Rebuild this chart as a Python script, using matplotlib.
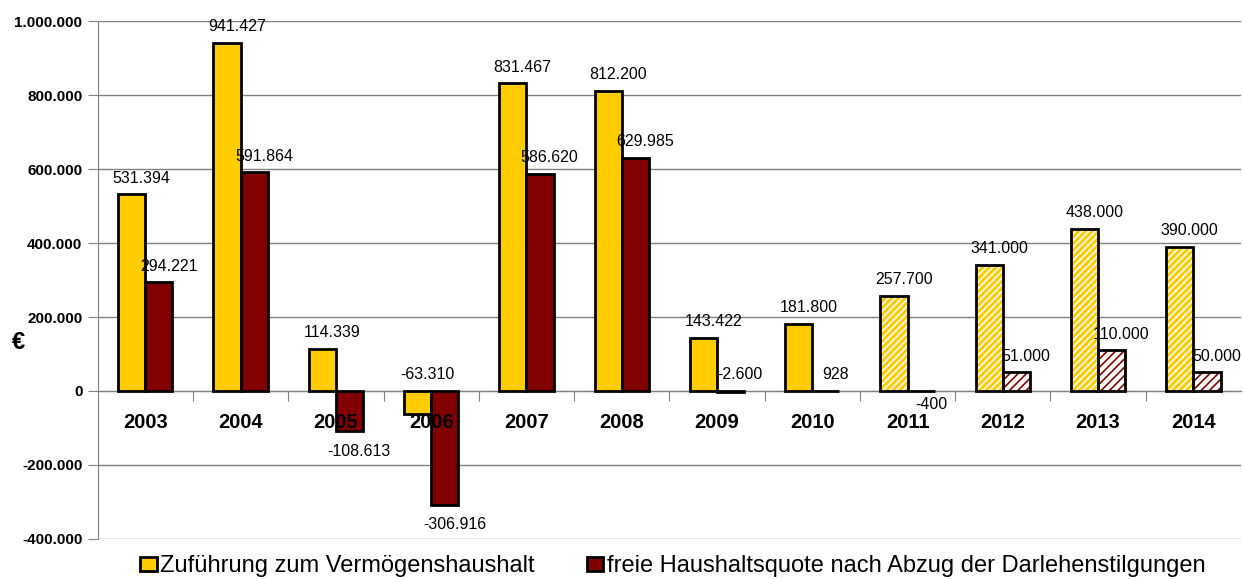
import numpy as np
import matplotlib
matplotlib.use("Agg")
import matplotlib.pyplot as plt
from matplotlib.patches import Patch

plt.rcParams['font.family'] = ['Liberation Sans', 'DejaVu Sans']
plt.rcParams['hatch.linewidth'] = 1.2

years = [2003, 2004, 2005, 2006, 2007, 2008, 2009, 2010, 2011, 2012, 2013, 2014]
zufuehrung = [531394, 941427, 114339, -63310, 831467, 812200, 143422, 181800,
              257700, 341000, 438000, 390000]
freie_quote = [294221, 591864, -108613, -306916, 586620, 629985, -2600, 928,
               -400, 51000, 110000, 50000]
# planned years (hatched bars)
plan_years = [2011, 2012, 2013, 2014]
legend_labels = ["Zuführung zum Vermögenshaushalt",
                 "freie Haushaltsquote nach Abzug der Darlehenstilgungen"]
yticks = [-400000, -200000, 0, 200000, 400000, 600000, 800000, 1000000]

# labels that Excel placed above the zero line although the value is negative
labels_up = {(0, 2006), (1, 2009)}

yellow = '#FFCC00'
darkred = '#800000'


def de_fmt(v):
    return f"{v:,.0f}".replace(',', '.')


fig = plt.figure(figsize=(12.43, 5.79), dpi=100)
ax = fig.add_axes([0.0786, 0.0691, 0.9198, 0.8946])

x = np.arange(len(years))
w = 0.285
series = [(zufuehrung, yellow, -w / 2), (freie_quote, darkred, w / 2)]

for si, (vals, col, shift) in enumerate(series):
    for i, (yr, v) in enumerate(zip(years, vals)):
        xi = x[i] + shift
        if yr in plan_years:
            if si == 0:
                ax.bar(xi, v, w, color=col, edgecolor='white', hatch='/////',
                       linewidth=0, zorder=3)
            else:
                ax.bar(xi, v, w, color='white', edgecolor=col, hatch='////',
                       linewidth=0, zorder=3)
            ax.bar(xi, v, w, fill=False, edgecolor='black', linewidth=2, zorder=4)
        else:
            ax.bar(xi, v, w, color=col, edgecolor='black', linewidth=2, zorder=3)

        if v >= 0:
            ax.annotate(de_fmt(v), xy=(xi, v), xytext=(7, 11.5),
                        textcoords='offset points', ha='center', va='center',
                        fontsize=11.5, zorder=5)
        elif (si, yr) in labels_up:
            ax.annotate(de_fmt(v), xy=(xi, 0), xytext=(7, 12),
                        textcoords='offset points', ha='center', va='center',
                        fontsize=11.5, zorder=5)
        else:
            dy = -9.5 if abs(v) < 20000 else -14.5
            ax.annotate(de_fmt(v), xy=(xi, v), xytext=(7, dy),
                        textcoords='offset points', ha='center', va='center',
                        fontsize=11.5, zorder=5)

ax.set_xlim(-0.5, len(years) - 0.5)
ax.set_ylim(-400000, 1000000)
ax.set_yticks(yticks)
ax.set_yticklabels([de_fmt(t) for t in yticks], fontweight='bold', fontsize=11)
ax.yaxis.grid(True, color='#808080', linewidth=1, zorder=0)
ax.tick_params(axis='y', direction='out', length=7, color='#808080', pad=4)

ax.spines['top'].set_visible(False)
ax.spines['right'].set_visible(False)
ax.spines['left'].set_color('#808080')
ax.spines['bottom'].set_position(('data', 0))
ax.spines['bottom'].set_color('#808080')
ax.spines['bottom'].set_zorder(2)

ax.set_xticks(x[:-1] + 0.5)
ax.set_xticklabels([])
ax.tick_params(axis='x', direction='out', length=7, color='#808080')
for i, yr in enumerate(years):
    ax.annotate(str(yr), xy=(x[i], 0), xytext=(0, -23), textcoords='offset points',
                ha='center', va='center', fontsize=14.5, fontweight='bold', zorder=6)

ax.set_ylabel('€', rotation=0, fontsize=17, fontweight='bold', ha='center', va='center')
ax.yaxis.set_label_coords(-0.0697, 0.38)

handles = [Patch(facecolor=yellow, edgecolor='black', linewidth=2),
           Patch(facecolor=darkred, edgecolor='black', linewidth=2)]
fig.legend(handles, legend_labels, loc='center', bbox_to_anchor=(673 / 1243, 1 - 566 / 579),
           ncol=2, frameon=False, fontsize=17, handlelength=0.7, handleheight=0.55,
           handletextpad=0.15, columnspacing=2.2, borderpad=0, borderaxespad=0)

fig.savefig('out.png', dpi=100)
